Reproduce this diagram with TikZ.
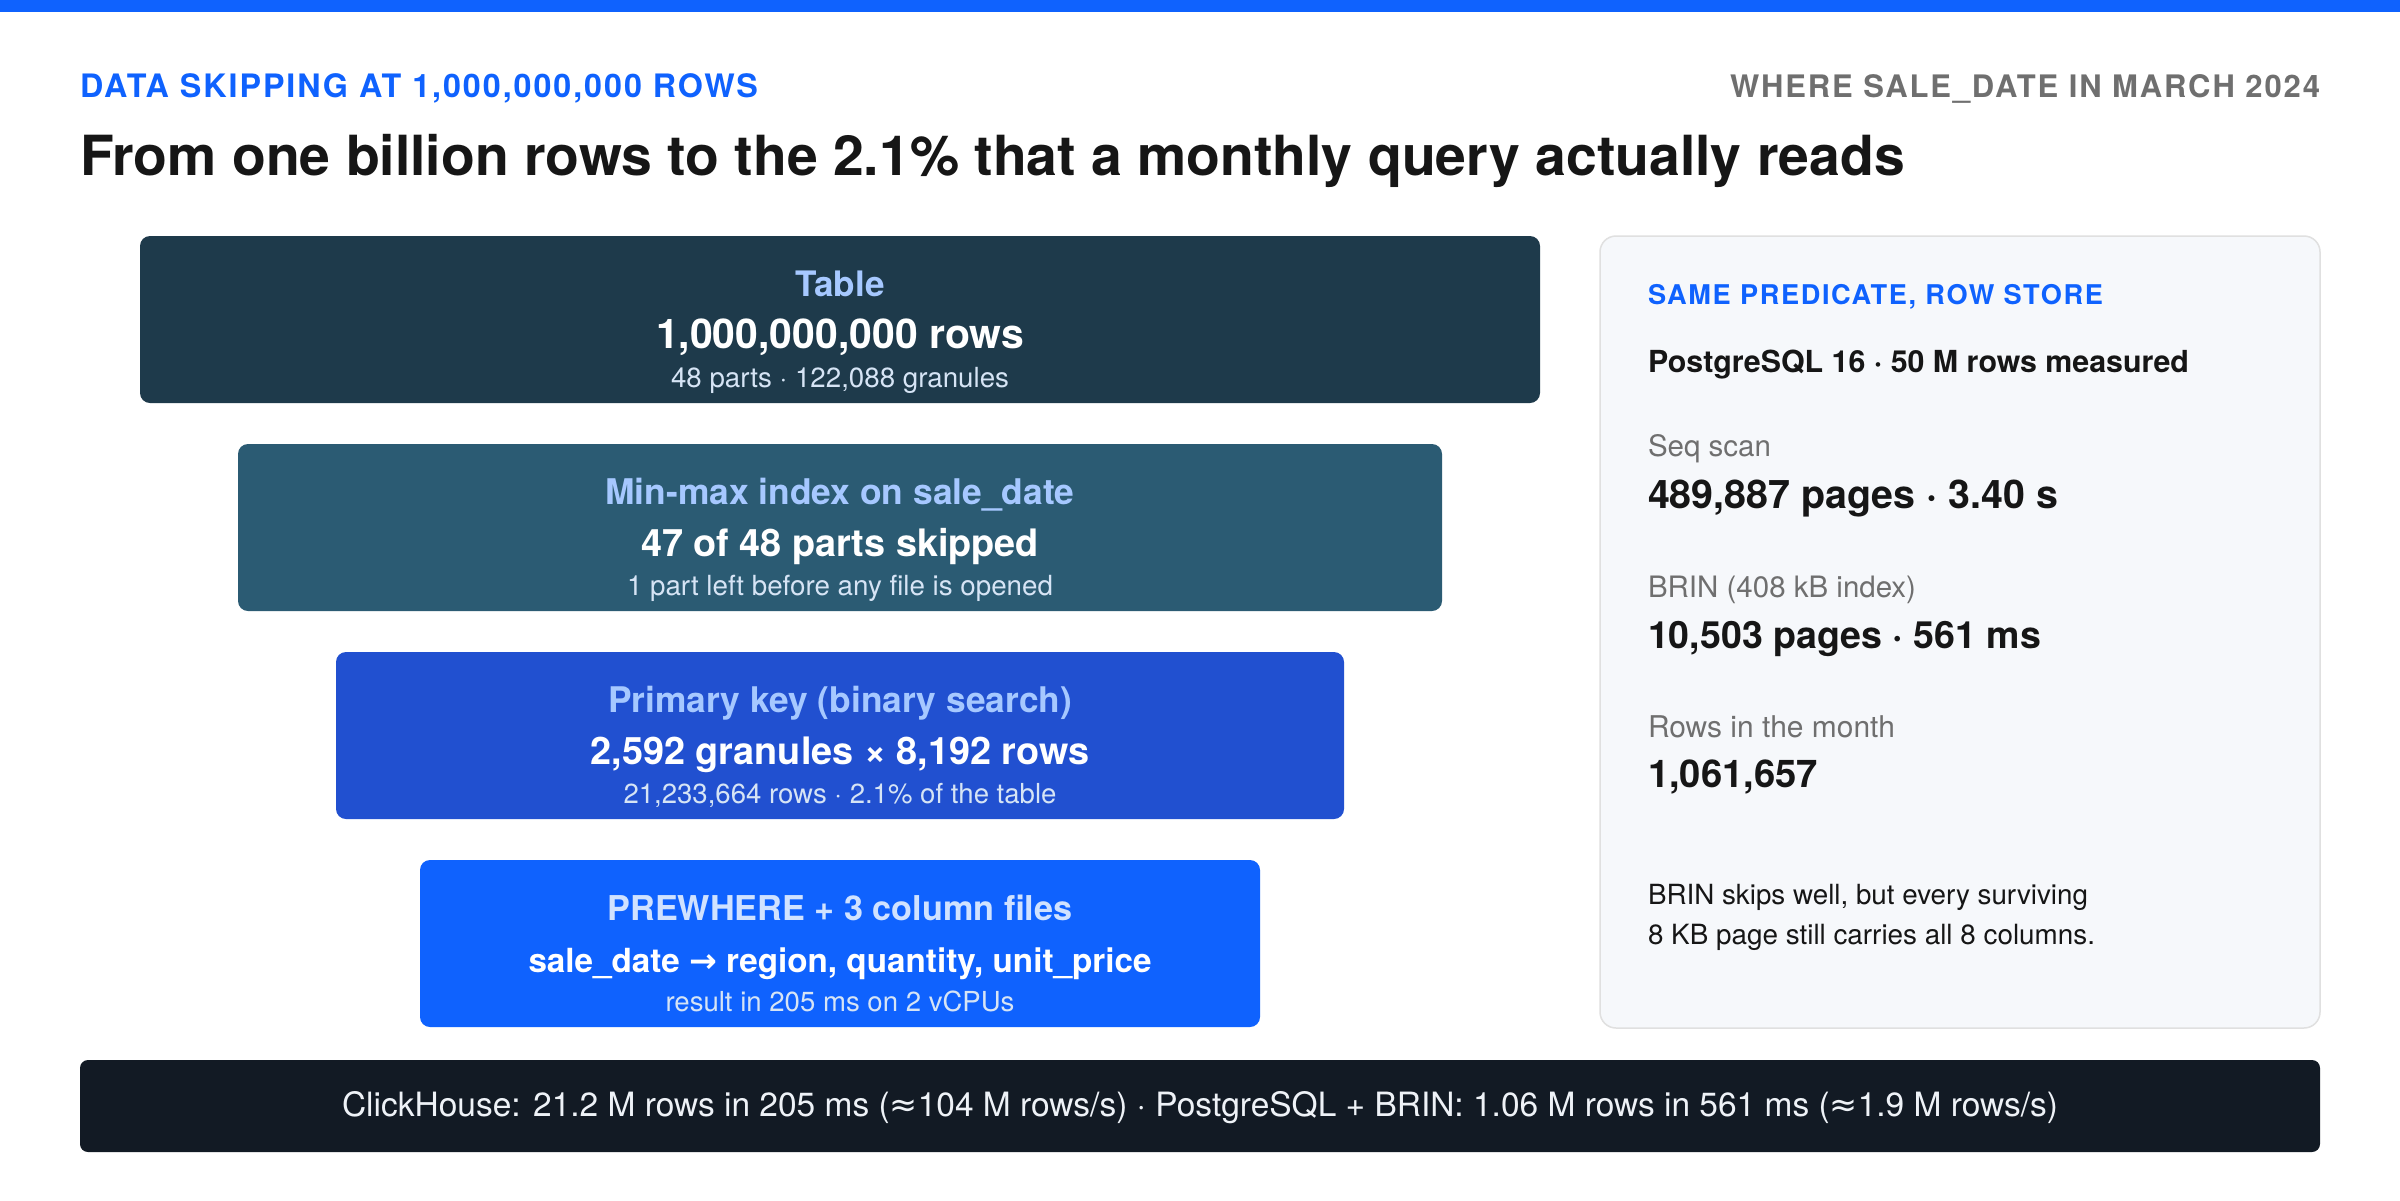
\documentclass[tikz,border=0pt]{standalone}
\usepackage{fontspec}
\setmainfont{TeX Gyre Heros}
\newfontfamily\symfont{DejaVu Sans}
\definecolor{topblue}{HTML}{0F62FE}
\definecolor{ink}{HTML}{161616}
\definecolor{graytxt}{HTML}{6F6F6F}
\definecolor{boxA}{HTML}{1E3A4B}
\definecolor{boxB}{HTML}{2B5B73}
\definecolor{boxC}{HTML}{2150D0}
\definecolor{boxD}{HTML}{0F62FE}
\definecolor{lblblue}{HTML}{A6C8FF}
\definecolor{lblpale}{HTML}{D0E2FF}
\definecolor{subtxt}{HTML}{D6E4F5}
\definecolor{panelfill}{HTML}{F6F8FB}
\definecolor{panelline}{HTML}{E0E0E0}
\definecolor{barfill}{HTML}{121A24}
\definecolor{bartxt}{HTML}{EEF2F7}
% set #3 in font #2 at the size that makes it #1 pt wide
\newcommand\fitto[3]{\begingroup\sbox0{\fontsize{20pt}{24pt}\selectfont#2#3}%
  \pgfmathsetmacro\fitsz{#1/\the\wd0*20}%
  \fontsize{\fitsz pt}{\fitsz pt}\selectfont#2#3\endgroup}
\tikzset{
  txt/.style={inner sep=0pt, outer sep=0pt},
  stagebox/.style={draw=none, rounded corners=10pt, minimum height=167pt, inner sep=0pt},
  lbl/.style={txt, anchor=base, text=lblblue},
  big/.style={txt, anchor=base, text=white},
  sub/.style={txt, anchor=base, text=subtxt},
  ptxt/.style={txt, anchor=base west},
}
\begin{document}
\begin{tikzpicture}[x=1pt,y=-1pt]
\useasboundingbox (0,0) rectangle (2400,1200);
\fill[white] (0,0) rectangle (2400,1200);
\fill[topblue] (0,0) rectangle (2400,12);

% header
\node[txt, anchor=base west, text=topblue] (eyeL) at (80,97)
  {\fitto{678}{\bfseries\addfontfeature{LetterSpace=6}}{DATA SKIPPING AT 1,000,000,000 ROWS}};
\node[txt, anchor=base east, text=graytxt] (eyeR) at (2320,97)
  {\fitto{590}{\bfseries\addfontfeature{LetterSpace=6}}{WHERE SALE\_DATE IN MARCH 2024}};
\node[txt, anchor=base west, text=ink] (title) at (80,175)
  {\fitto{1825}{\bfseries}{From one billion rows to the 2.1\% that a monthly query actually reads}};

% funnel stages
\node[stagebox, fill=boxA, minimum width=1400pt] (s1) at (840,319.5) {};
\node[lbl] (s1l) at (840,296) {\fitto{89}{\bfseries}{Table}};
\node[big] (s1b) at (840,348) {\fitto{368}{\bfseries}{1,000,000,000 rows}};
\node[sub] (s1s) at (840,387) {\fitto{338}{}{48 parts · 122,088 granules}};

\node[stagebox, fill=boxB, minimum width=1204pt] (s2) at (840,527.5) {};
\node[lbl] (s2l) at (840,504) {\fitto{469}{\bfseries}{Min-max index on sale\_date}};
\node[big] (s2b) at (840,556) {\fitto{398}{\bfseries}{47 of 48 parts skipped}};
\node[sub] (s2s) at (840,595) {\fitto{426}{}{1 part left before any file is opened}};

\node[stagebox, fill=boxC, minimum width=1008pt] (s3) at (840,735.5) {};
\node[lbl] (s3l) at (840,712) {\fitto{464}{\bfseries}{Primary key (binary search)}};
\node[big] (s3b) at (840,764) {\fitto{499}{\bfseries}{2,592 granules × 8,192 rows}};
\node[sub] (s3s) at (840,803) {\fitto{433}{}{21,233,664 rows · 2.1\% of the table}};

\node[stagebox, fill=boxD, minimum width=840pt] (s4) at (840,943.5) {};
\node[lbl, text=lblpale] (s4l) at (840,920) {\fitto{465}{\bfseries}{PREWHERE + 3 column files}};
\node[big] (s4b) at (840,972) {\fitto{623}{\bfseries}{sale\_date {\symfont →} region, quantity, unit\_price}};
\node[sub] (s4s) at (840,1011) {\fitto{349}{}{result in 205 ms on 2 vCPUs}};

% side panel
\draw[fill=panelfill, draw=panelline, line width=1.5pt, rounded corners=16pt] (1600,236) rectangle (2320,1028);
\node[ptxt, text=topblue] (p0) at (1648,304)
  {\fitto{455}{\bfseries\addfontfeature{LetterSpace=6}}{SAME PREDICATE, ROW STORE}};
\node[ptxt, text=ink] (p1) at (1648,372) {\fitto{541}{\bfseries}{PostgreSQL 16 · 50 M rows measured}};
\node[ptxt, text=graytxt] (p2) at (1648,456) {\fitto{123}{}{Seq scan}};
\node[ptxt, text=ink] (p3) at (1648,508) {\fitto{410}{\bfseries}{489,887 pages · 3.40 s}};
\node[ptxt, text=graytxt] (p4) at (1648,597) {\fitto{268}{}{BRIN (408 kB index)}};
\node[ptxt, text=ink] (p5) at (1648,648) {\fitto{393}{\bfseries}{10,503 pages · 561 ms}};
\node[ptxt, text=graytxt] (p6) at (1648,737) {\fitto{247}{}{Rows in the month}};
\node[ptxt, text=ink] (p7) at (1648,787) {\fitto{170}{\bfseries}{1,061,657}};
\node[ptxt, text=ink] (p8) at (1648,904) {\fitto{440}{}{BRIN skips well, but every surviving}};
\node[ptxt, text=ink] (p9) at (1648,944) {\fitto{447}{}{8 KB page still carries all 8 columns.}};

% bottom bar
\node[draw=none, fill=barfill, rounded corners=8pt, minimum width=2240pt, minimum height=92pt, inner sep=0pt] (bar) at (1200,1106) {};
\node[txt, anchor=base, text=bartxt] (bart) at (1200,1116)
  {\fitto{1716}{}{ClickHouse: 21.2 M rows in 205 ms ({\symfont ≈}104 M rows/s) · PostgreSQL + BRIN: 1.06 M rows in 561 ms ({\symfont ≈}1.9 M rows/s)}};
\end{tikzpicture}
\end{document}
